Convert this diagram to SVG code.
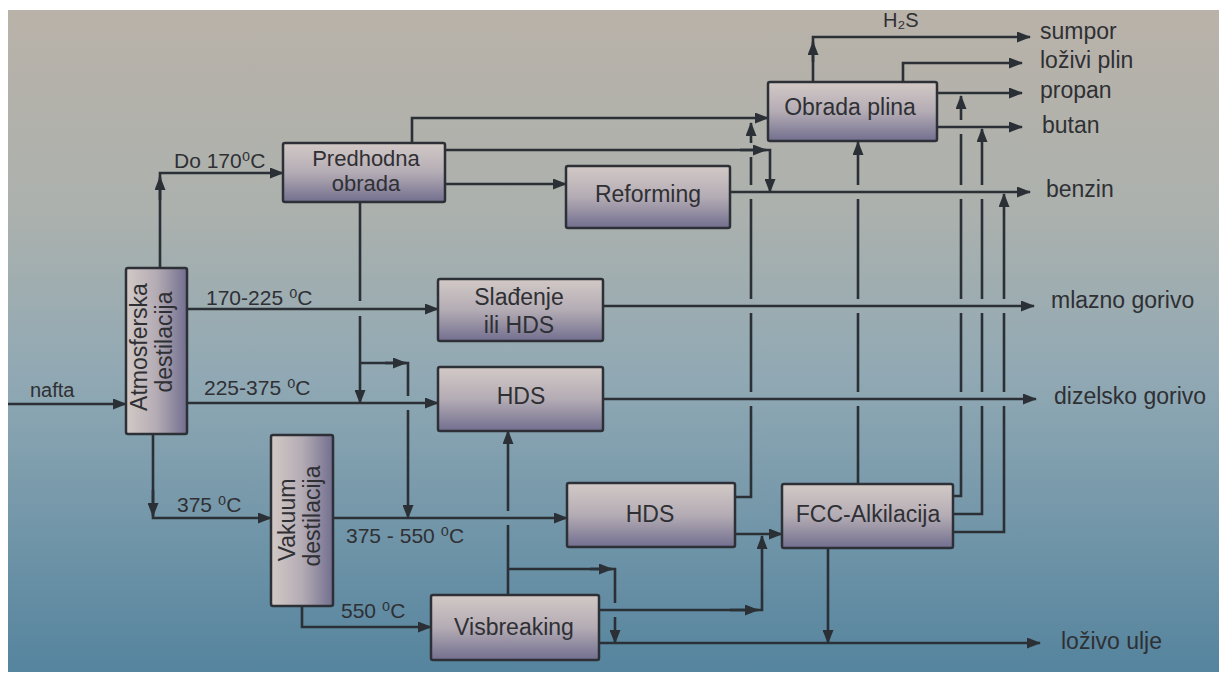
<svg xmlns="http://www.w3.org/2000/svg" width="1219" height="675" viewBox="0 0 1219 675">
<defs>
  <linearGradient id="bg" x1="0" y1="10" x2="0" y2="672" gradientUnits="userSpaceOnUse">
    <stop offset="0" stop-color="#b9b2a9"/>
    <stop offset="0.3" stop-color="#acb1ad"/>
    <stop offset="0.55" stop-color="#91a9b4"/>
    <stop offset="1" stop-color="#55849e"/>
  </linearGradient>
  <linearGradient id="boxV" x1="0" y1="0" x2="0" y2="1">
    <stop offset="0" stop-color="#d2c9c6"/>
    <stop offset="0.5" stop-color="#b4acb4"/>
    <stop offset="1" stop-color="#726f8f"/>
  </linearGradient>
  <linearGradient id="boxH" x1="0" y1="0" x2="1" y2="0">
    <stop offset="0" stop-color="#d2c9c6"/>
    <stop offset="0.5" stop-color="#b4acb4"/>
    <stop offset="1" stop-color="#726f8f"/>
  </linearGradient>
  <marker id="a" viewBox="0 0 14 11" refX="13" refY="5.5" markerWidth="14" markerHeight="11" markerUnits="userSpaceOnUse" orient="auto">
    <path d="M0,0 L14,5.5 L0,11 z" fill="#2b3036"/>
  </marker>
</defs>
<style>
  .box{stroke:#2d3036;stroke-width:2.5}
  .bv{fill:url(#boxV)}
  .bh{fill:url(#boxH)}
  #connectors path{fill:none;stroke:#2b3036;stroke-width:2.6}
  #connectors path.m{marker-end:url(#a)}
  text{font-family:"Liberation Sans",Arial,"DejaVu Sans",sans-serif;fill:#2f3034}
  .n{font-size:23px;text-anchor:middle}
  .s{font-size:22px}
  .l{font-size:21px}
  .o{font-size:23px}
</style>
<rect x="0" y="0" width="1219" height="675" fill="#ffffff"/>
<rect x="8" y="10" width="1211" height="662" fill="url(#bg)"/>

<g id="connectors">
  <path class="m" d="M8,404 H126"/>
  <path class="m" d="M160,268 V173 H283"/>
  <path class="m" d="M160,200 V177"/>
  <path class="m" d="M187,309 H438"/>
  <path class="m" d="M187,403 H438"/>
  <path class="m" d="M153,434 V518 H271"/>
  <path class="m" d="M153,490 V516"/>
  <path class="m" d="M333,518 H567"/>
  <path class="m" d="M302,606 V627 H431"/>
  <path d="M360,201 V301"/>
  <path class="m" d="M360,316 V403"/>
  <path d="M360,363 H408 V396"/>
  <path class="m" d="M408,410 V518"/>
  <path class="m" d="M385,363 H406"/>
  <path class="m" d="M412,143 V118 H768"/>
  <path class="m" d="M445,150 H770 V192"/>
  <path class="m" d="M740,150 H766"/>
  <path class="m" d="M445,184 H566"/>
  <path class="m" d="M730,192 H1030"/>
  <path class="m" d="M603,306 H1034"/>
  <path class="m" d="M603,399 H1036"/>
  <path d="M735,497 H751 V406"/>
  <path d="M751,392 V313"/>
  <path d="M751,299 V199"/>
  <path d="M751,185 V157"/>
  <path class="m" d="M751,143 V123"/>
  <path d="M858,484 V406"/>
  <path d="M858,392 V313"/>
  <path d="M858,299 V199"/>
  <path class="m" d="M858,185 V142"/>
  <path d="M953,496 H961 V406"/>
  <path d="M961,392 V313"/>
  <path d="M961,299 V199"/>
  <path d="M961,185 V134"/>
  <path class="m" d="M961,120 V96"/>
  <path d="M953,514 H982 V406"/>
  <path d="M982,392 V313"/>
  <path d="M982,299 V199"/>
  <path class="m" d="M982,185 V129"/>
  <path d="M953,532 H1004 V406"/>
  <path d="M1004,392 V313"/>
  <path class="m" d="M1004,299 V194"/>
  <path class="m" d="M813,82 V37 H1030"/>
  <path class="m" d="M813,62 V42"/>
  <path class="m" d="M903,82 V63 H1022"/>
  <path class="m" d="M937,93 H1022"/>
  <path class="m" d="M937,127 H1022"/>
  <path class="m" d="M735,534 H782"/>
  <path d="M508,595 V525"/>
  <path class="m" d="M508,511 V431"/>
  <path d="M508,569 H615 V603"/>
  <path class="m" d="M615,617 V643"/>
  <path class="m" d="M590,569 H612"/>
  <path class="m" d="M599,610 H762 V536"/>
  <path class="m" d="M730,610 H758"/>
  <path class="m" d="M599,643 H1040"/>
  <path class="m" d="M828,548 V643"/>
</g>

<g id="predhodna">
  <rect class="box bv" x="283" y="143" width="162" height="59" rx="2"/>
  <text class="n s" x="366" y="166">Predhodna</text>
  <text class="n s" x="366" y="191">obrada</text>
</g>
<g id="reforming">
  <rect class="box bv" x="566" y="166" width="164" height="62" rx="2"/>
  <text class="n" x="648" y="202">Reforming</text>
</g>
<g id="obrada-plina">
  <rect class="box bv" x="768" y="82" width="169" height="59" rx="2"/>
  <text class="n" x="850" y="115">Obrada plina</text>
</g>
<g id="atmosferska">
  <rect class="box bh" x="126" y="268" width="61" height="166" rx="2"/>
  <text class="n" transform="translate(147,347) rotate(-90)">Atmosferska</text>
  <text class="n" transform="translate(172,342) rotate(-90)">destilacija</text>
</g>
<g id="sladenje">
  <rect class="box bv" x="438" y="279" width="165" height="62" rx="2"/>
  <text class="n" x="519" y="305">Slađenje</text>
  <text class="n" x="519" y="333">ili HDS</text>
</g>
<g id="hds1">
  <rect class="box bv" x="438" y="367" width="165" height="64" rx="2"/>
  <text class="n" x="521" y="404">HDS</text>
</g>
<g id="vakuum">
  <rect class="box bh" x="271" y="435" width="62" height="171" rx="2"/>
  <text class="n" transform="translate(295,520) rotate(-90)">Vakuum</text>
  <text class="n" transform="translate(320,516) rotate(-90)">destilacija</text>
</g>
<g id="hds2">
  <rect class="box bv" x="567" y="483" width="168" height="64" rx="2"/>
  <text class="n" x="650" y="522">HDS</text>
</g>
<g id="fcc">
  <rect class="box bv" x="782" y="484" width="171" height="64" rx="2"/>
  <text class="n" x="868" y="522">FCC-Alkilacija</text>
</g>
<g id="visbreaking">
  <rect class="box bv" x="431" y="595" width="168" height="65" rx="2"/>
  <text class="n" x="514" y="635">Visbreaking</text>
</g>

<g id="labels">
  <text class="l" x="30" y="397" style="font-size:20px">nafta</text>
  <text class="l" x="174" y="168">Do 170⁰C</text>
  <text class="l" x="206" y="305">170-225 ⁰C</text>
  <text class="l" x="204" y="395">225-375 ⁰C</text>
  <text class="l" x="177" y="512">375 ⁰C</text>
  <text class="l" x="346" y="543">375 - 550 ⁰C</text>
  <text class="l" x="341" y="618">550 ⁰C</text>
  <text class="l" x="883" y="27" style="font-size:20px">H₂S</text>
  <text class="o" x="1040" y="39">sumpor</text>
  <text class="o" x="1040" y="68">loživi plin</text>
  <text class="o" x="1040" y="98">propan</text>
  <text class="o" x="1042" y="133">butan</text>
  <text class="o" x="1046" y="197">benzin</text>
  <text class="o" x="1051" y="308">mlazno gorivo</text>
  <text class="o" x="1054" y="404">dizelsko gorivo</text>
  <text class="o" x="1061" y="649">loživo ulje</text>
</g>
</svg>
